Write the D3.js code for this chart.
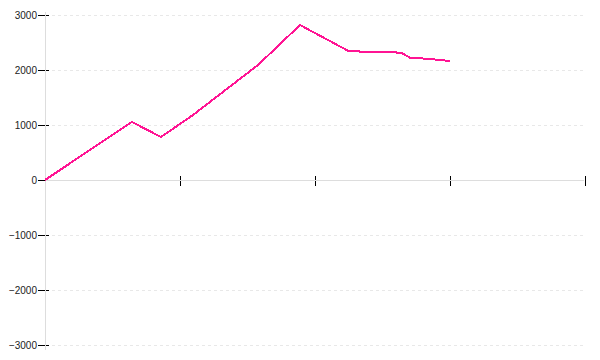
<!DOCTYPE html>
<html>
<head>
	<meta charset="utf-8">
	<title>Line</title>
	<script src="https://d3js.org/d3.v7.min.js"></script>
	<style>
		body { margin: 0; background: #fff; }
		text { font-family: "Liberation Sans", Arial, sans-serif; font-size: 10px; fill: #222; }
	</style>
</head>
<body>
<section id="container"></section>
<script>
//Data
var xValues = [0, 0.644, 0.859, 1.096, 1.578, 1.889, 2.244, 2.348, 2.541, 2.642, 2.704, 2.852, 2.948, 3.0];
var yValues = [0, 1055, 782, 1182, 2091, 2818, 2351, 2333, 2333, 2309, 2224, 2200, 2176, 2164];
var xTicks = [0, 1, 2, 3, 4];
var yTicks = [-3000, -2000, -1000, 0, 1000, 2000, 3000];

var svg = d3.select("#container")
	.append("svg")
	.attr("width", 600)
	.attr("height", 360);

var x = d3.scaleLinear().domain([0, 4]).range([45, 585]);
var y = d3.scaleLinear().domain([-3000, 3000]).range([345, 15]);

//Dashed grid lines
svg.append("g")
	.selectAll("line")
	.data(yTicks)
	.enter().append("line")
	.attr("x1", 52)
	.attr("x2", 585)
	.attr("y1", function(d) { return y(d) + 0.5; })
	.attr("y2", function(d) { return y(d) + 0.5; })
	.attr("stroke", "#e8e8e8")
	.attr("stroke-dasharray", "3,3");

//Tick marks (black), drawn under the grey axis lines
svg.append("g")
	.selectAll("line")
	.data(yTicks)
	.enter().append("line")
	.attr("x1", 38)
	.attr("x2", 49)
	.attr("y1", function(d) { return y(d) + 0.5; })
	.attr("y2", function(d) { return y(d) + 0.5; })
	.attr("stroke", "#000");

svg.append("g")
	.selectAll("line")
	.data(xTicks)
	.enter().append("line")
	.attr("x1", function(d) { return x(d) + 0.5; })
	.attr("x2", function(d) { return x(d) + 0.5; })
	.attr("y1", 176)
	.attr("y2", 186)
	.attr("stroke", "#000");

//Y axis labels through d3.axisLeft, no domain or tick lines
var yAxis = svg.append("g")
	.attr("transform", "translate(38,0)")
	.call(d3.axisLeft(y).tickValues(yTicks).tickSize(0).tickPadding(1).tickFormat(d3.format("d")));
yAxis.select(".domain").remove();
yAxis.selectAll("text")
	.attr("font-family", null)
	.attr("font-size", null)
	.attr("fill", "#222");

//Grey axis lines
svg.append("line")
	.attr("x1", 45.5).attr("x2", 45.5)
	.attr("y1", 12).attr("y2", 350)
	.attr("stroke", "#ddd");
svg.append("line")
	.attr("x1", 45).attr("x2", 584)
	.attr("y1", y(0) + 0.5).attr("y2", y(0) + 0.5)
	.attr("stroke", "#ddd");

//The line
var line = d3.line()
	.x(function(d, i) { return x(xValues[i]); })
	.y(function(d) { return y(d); });

svg.append("path")
	.datum(yValues)
	.attr("d", line)
	.attr("fill", "none")
	.attr("stroke", "#ff1493")
	.attr("stroke-width", 2)
	.attr("shape-rendering", "crispEdges");
</script>
</body>
</html>
